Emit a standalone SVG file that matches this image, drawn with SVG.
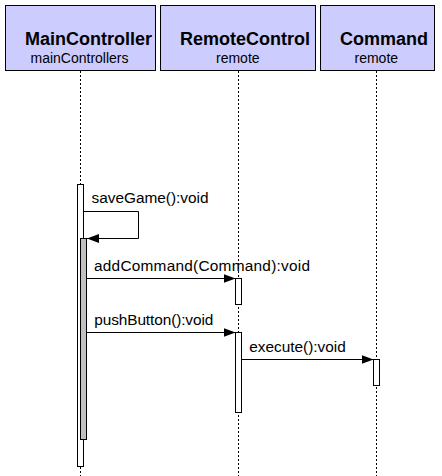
<svg xmlns="http://www.w3.org/2000/svg" width="442" height="476" viewBox="0 0 442 476">
  <style>
    .head { fill: #ccccff; stroke: #000; stroke-width: 1; }
    .title { font-family: "Liberation Sans", Arial, sans-serif; font-size: 18px; font-weight: bold; fill: #000; }
    .sub { font-family: "Liberation Sans", Arial, sans-serif; font-size: 14px; fill: #000; }
    .life { stroke: #000; stroke-width: 1; stroke-dasharray: 2,2; fill: none; }
    .act { fill: #fff; stroke: #000; stroke-width: 1; }
    .act2 { fill: #c0c0c0; stroke: #000; stroke-width: 1; }
    .msg { stroke: #000; stroke-width: 1; fill: none; marker-end: url(#arrow); }
    .lbl { font-family: "Liberation Sans", Arial, sans-serif; font-size: 15.4px; fill: #000; }
  </style>
  <defs>
    <marker id="arrow" markerUnits="userSpaceOnUse" markerWidth="13" markerHeight="10" refX="12" refY="4.5" orient="auto">
      <path d="M0,0 L12,4.5 L0,9 z" fill="#000"/>
    </marker>
  </defs>
  <rect width="442" height="476" fill="#fff"/>

  <g id="mainController">
    <rect class="head" x="5.5" y="5.5" width="150" height="65"/>
    <text class="title" x="25" y="45">MainController</text>
    <text class="sub" x="30.5" y="63">mainControllers</text>
    <line class="life" x1="80.5" y1="71" x2="80.5" y2="476"/>
    <rect class="act" x="77.5" y="184.5" width="6" height="282"/>
    <rect class="act2" x="80.5" y="238.5" width="6" height="201"/>
  </g>

  <g id="remoteControl">
    <rect class="head" x="160.5" y="5.5" width="155" height="65"/>
    <text class="title" x="180" y="45">RemoteControl</text>
    <text class="sub" x="216" y="63">remote</text>
    <line class="life" x1="238.5" y1="71" x2="238.5" y2="476"/>
    <rect class="act" x="235.5" y="278.5" width="6" height="26"/>
    <rect class="act" x="235.5" y="332.5" width="6" height="80"/>
  </g>

  <g id="command">
    <rect class="head" x="320.5" y="5.5" width="114" height="65"/>
    <text class="title" x="340" y="45">Command</text>
    <text class="sub" x="354.5" y="63">remote</text>
    <line class="life" x1="376.5" y1="71" x2="376.5" y2="476"/>
    <rect class="act" x="373.5" y="359.5" width="6" height="26"/>
  </g>

  <g id="connectors">
    <polyline class="msg" points="83.5,211.5 138.5,211.5 138.5,238.5 87,238.5"/>
    <text class="lbl" x="91.5" y="203" textLength="117" lengthAdjust="spacing">saveGame():void</text>

    <line class="msg" x1="86.5" y1="278.5" x2="235.5" y2="278.5"/>
    <text class="lbl" x="94" y="271" textLength="216" lengthAdjust="spacing">addCommand(Command):void</text>

    <line class="msg" x1="86.5" y1="332.5" x2="235.5" y2="332.5"/>
    <text class="lbl" x="94.3" y="325" textLength="119" lengthAdjust="spacing">pushButton():void</text>

    <line class="msg" x1="241.5" y1="359.5" x2="373.5" y2="359.5"/>
    <text class="lbl" x="249.3" y="351.7" textLength="96.4" lengthAdjust="spacing">execute():void</text>
  </g>
</svg>
